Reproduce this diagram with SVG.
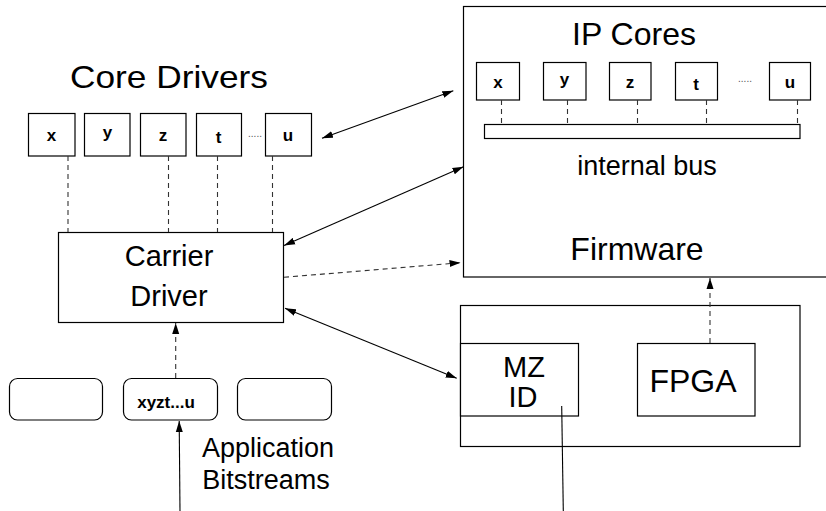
<svg xmlns="http://www.w3.org/2000/svg" width="826" height="511" viewBox="0 0 826 511">
<defs>
<style>
.box{fill:#fff;stroke:#000;stroke-width:1.2}
.ln{fill:none;stroke:#000;stroke-width:1.1}
.dash{fill:none;stroke:#333;stroke-width:1.1;stroke-dasharray:5,4}
.t{font-family:"Liberation Sans",Arial,sans-serif;fill:#000;text-anchor:middle}
.big{font-size:32px}
.mid{font-size:29px}
.sm{font-size:27px}
.lt{font-size:17px;font-weight:bold}
.dots{font-family:"Liberation Sans",Arial,sans-serif;font-size:10px;fill:#555;text-anchor:middle}
</style>
<marker id="ah" markerUnits="userSpaceOnUse" markerWidth="12" markerHeight="8" refX="11" refY="4" orient="auto-start-reverse">
<path d="M0,0.5 L11,4 L0,7.5 z" fill="#000"/>
</marker>
</defs>
<rect width="826" height="511" fill="#fff"/>

<text class="t big" x="169" y="87.5" textLength="198" lengthAdjust="spacingAndGlyphs">Core Drivers</text>

<g id="core-x"><rect class="box" x="28.5" y="113.5" width="46.5" height="42.5"/><text class="t lt" x="51.5" y="141">x</text></g>
<g id="core-y"><rect class="box" x="84.5" y="113.5" width="45.5" height="42.5"/><text class="t lt" x="107.5" y="138">y</text></g>
<g id="core-z"><rect class="box" x="140.5" y="113.5" width="45.5" height="42.5"/><text class="t lt" x="163" y="141">z</text></g>
<g id="core-t"><rect class="box" x="196.5" y="113.5" width="45" height="42.5"/><text class="t lt" x="218.5" y="143">t</text></g>
<text class="dots" x="255" y="137">.....</text>
<g id="core-u"><rect class="box" x="265.5" y="113.5" width="46" height="42.5"/><text class="t lt" x="288" y="141">u</text></g>

<g id="carrier"><rect class="box" x="58.5" y="232.5" width="225" height="90"/>
<text class="t mid" x="169" y="266">Carrier</text><text class="t mid" x="169" y="306">Driver</text></g>

<g id="bs1"><rect class="box" x="9.5" y="378.5" width="93" height="41.5" rx="8"/></g>
<g id="bs2"><rect class="box" x="123.5" y="378.5" width="94" height="41.5" rx="8"/><text class="t lt" x="166" y="408">xyzt...u</text></g>
<g id="bs3"><rect class="box" x="237.5" y="378.5" width="94" height="41.5" rx="8"/></g>
<text class="t sm" x="268" y="457">Application</text>
<text class="t sm" x="266" y="489">Bitstreams</text>

<g id="ipcores"><rect class="box" x="463.5" y="6.5" width="380" height="270.5"/>
<text class="t big" x="634" y="45">IP Cores</text>
<text class="t sm" x="647" y="175">internal bus</text>
<text class="t big" x="637" y="260">Firmware</text></g>
<g id="bus"><rect class="box" x="484.5" y="124.5" width="315.5" height="14"/></g>
<g id="ip-x"><rect class="box" x="476.5" y="62.5" width="43" height="37.5"/><text class="t lt" x="498" y="88">x</text></g>
<g id="ip-y"><rect class="box" x="543.5" y="62.5" width="42.5" height="37.5"/><text class="t lt" x="564.5" y="85">y</text></g>
<g id="ip-z"><rect class="box" x="609.5" y="62.5" width="41.5" height="37.5"/><text class="t lt" x="630" y="88">z</text></g>
<g id="ip-t"><rect class="box" x="675.5" y="62.5" width="42" height="37.5"/><text class="t lt" x="696" y="90">t</text></g>
<text class="dots" x="745" y="82">.....</text>
<g id="ip-u"><rect class="box" x="769.5" y="62.5" width="41" height="37.5"/><text class="t lt" x="790" y="88">u</text></g>

<g id="board"><rect class="box" x="460.5" y="305.5" width="339.5" height="141"/></g>
<g id="mzid"><rect class="box" x="460.5" y="343.5" width="118" height="72.5"/>
<text class="t mid" x="524" y="376.5">MZ</text><text class="t mid" x="523" y="406.5">ID</text></g>
<g id="fpga"><rect class="box" x="637.5" y="343.5" width="117.5" height="72.5"/>
<text class="t big" x="693" y="391.5">FPGA</text></g>

<g id="connectors">
<line class="dash" x1="68" y1="156" x2="68" y2="232"/>
<line class="dash" x1="168.5" y1="156" x2="168.5" y2="232"/>
<line class="dash" x1="217.5" y1="156" x2="217.5" y2="232"/>
<line class="dash" x1="272.5" y1="156" x2="272.5" y2="232"/>
<line class="dash" x1="501.5" y1="100" x2="501.5" y2="124"/>
<line class="dash" x1="567.5" y1="100" x2="567.5" y2="124"/>
<line class="dash" x1="637.5" y1="100" x2="637.5" y2="124"/>
<line class="dash" x1="706.5" y1="100" x2="706.5" y2="124"/>
<line class="dash" x1="797.5" y1="100" x2="797.5" y2="124"/>
<line class="ln" x1="322" y1="138.3" x2="453.3" y2="90.7" marker-start="url(#ah)" marker-end="url(#ah)"/>
<line class="ln" x1="284" y1="245.5" x2="463.5" y2="166.7" marker-start="url(#ah)" marker-end="url(#ah)"/>
<line class="dash" x1="284" y1="277.3" x2="460.5" y2="262.7" marker-end="url(#ah)"/>
<line class="ln" x1="285" y1="308.3" x2="456.7" y2="378.3" marker-start="url(#ah)" marker-end="url(#ah)"/>
<line class="dash" x1="175.7" y1="378" x2="175.7" y2="323" marker-end="url(#ah)"/>
<line class="ln" x1="180" y1="511" x2="179.2" y2="421" marker-end="url(#ah)"/>
<line class="dash" x1="710" y1="343" x2="710" y2="278" marker-end="url(#ah)"/>
<line class="ln" x1="561.7" y1="406" x2="563.3" y2="511"/>
</g>
</svg>
